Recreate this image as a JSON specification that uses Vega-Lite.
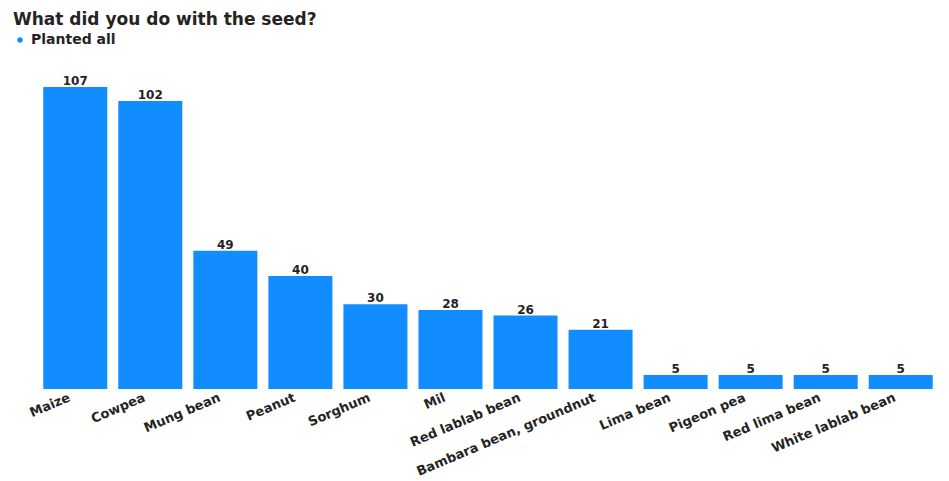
{
  "$schema": "https://vega.github.io/schema/vega-lite/v6.json",
  "width": 900,
  "height": 302,
  "autosize": "none",
  "padding": {"left": 38, "top": 87, "right": 11, "bottom": 92},
  "background": "white",
  "title": {
    "text": "What did you do with the seed?",
    "anchor": "start",
    "dx": 0,
    "offset": 4,
    "font": "DejaVu Sans",
    "fontSize": 17,
    "fontWeight": "bold",
    "color": "#252423"
  },
  "data": {
    "values": [
      {"crop": "Maize", "count": 107, "answer": "Planted all"},
      {"crop": "Cowpea", "count": 102, "answer": "Planted all"},
      {"crop": "Mung bean", "count": 49, "answer": "Planted all"},
      {"crop": "Peanut", "count": 40, "answer": "Planted all"},
      {"crop": "Sorghum", "count": 30, "answer": "Planted all"},
      {"crop": "Mil", "count": 28, "answer": "Planted all"},
      {"crop": "Red lablab bean", "count": 26, "answer": "Planted all"},
      {"crop": "Bambara bean, groundnut", "count": 21, "answer": "Planted all"},
      {"crop": "Lima bean", "count": 5, "answer": "Planted all"},
      {"crop": "Pigeon pea", "count": 5, "answer": "Planted all"},
      {"crop": "Red lima bean", "count": 5, "answer": "Planted all"},
      {"crop": "White lablab bean", "count": 5, "answer": "Planted all"}
    ]
  },
  "encoding": {
    "x": {
      "field": "crop",
      "type": "nominal",
      "sort": null,
      "scale": {"paddingInner": 0.147, "paddingOuter": 0.07},
      "axis": {
        "title": null,
        "domain": false,
        "ticks": false,
        "labelAngle": -23,
        "labelAlign": "right",
        "labelBaseline": "top",
        "labelPadding": 2,
        "labelOffset": -8,
        "labelFont": "DejaVu Sans",
        "labelFontSize": 13,
        "labelFontWeight": "bold",
        "labelColor": "#252423",
        "labelOverlap": false,
        "labelLimit": 300
      }
    },
    "y": {
      "field": "count",
      "type": "quantitative",
      "scale": {"domain": [0, 107], "nice": false},
      "axis": null
    }
  },
  "layer": [
    {
      "mark": {"type": "bar", "color": "#118DFF"},
      "encoding": {
        "color": {
          "field": "answer",
          "type": "nominal",
          "scale": {"range": ["#118DFF"]},
          "legend": {
            "title": null,
            "orient": "none",
            "legendX": -25,
            "legendY": -54,
            "symbolType": "circle",
            "symbolSize": 30,
            "labelFont": "DejaVu Sans",
            "labelFontSize": 14,
            "labelFontWeight": "bold",
            "labelColor": "#252423",
            "labelOffset": 4
          }
        }
      }
    },
    {
      "mark": {
        "type": "text",
        "dy": -6,
        "font": "DejaVu Sans",
        "fontSize": 12,
        "fontWeight": "bold",
        "color": "#252423"
      },
      "encoding": {"text": {"field": "count", "type": "quantitative"}}
    }
  ],
  "config": {"view": {"stroke": null}}
}
